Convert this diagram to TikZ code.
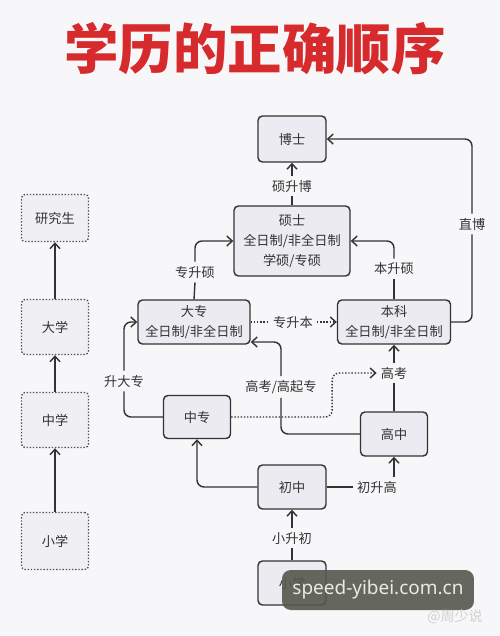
\documentclass[tikz,border=0pt]{standalone}
\usepackage{fontspec}
\setmainfont{Noto Sans CJK SC}
\newfontfamily\wmfont{Noto Sans}
\usetikzlibrary{arrows.meta,positioning}
\definecolor{bgc}{HTML}{F7F7F9}
\definecolor{boxfill}{HTML}{ECEBF1}
\definecolor{boxline}{HTML}{333333}
\definecolor{txt}{HTML}{333333}
\definecolor{titlered}{HTML}{D62A2C}
\definecolor{wmbox}{HTML}{56584E}
\definecolor{wmtext}{HTML}{E8ECDA}
\tikzset{
  stage/.style={draw=boxline, line width=0.8pt, rounded corners=2.5pt, fill=boxfill,
    align=center, text=txt, inner sep=0pt, font=\fontsize{7.5}{11.2}\selectfont},
  levelbox/.style={draw=boxline!85, line width=0.8pt, densely dotted, rounded corners=2pt,
    fill=boxfill!80, text=txt, minimum width=1.34cm, inner sep=0pt,
    font=\fontsize{7.5}{11.2}\selectfont},
  lbl/.style={text=txt, inner sep=2.2pt, font=\fontsize{7.5}{9}\selectfont},
  link/.style={draw=boxline, line width=0.8pt},
  arr/.style={link, -{Straight Barb[length=1.1mm, width=2mm]}},
  dotarr/.style={arr, densely dotted}
}
\begin{document}
\begin{tikzpicture}[x=0.02cm, y=-0.02cm]
  \fill[bgc] (0,0) rectangle (500,636);
  \useasboundingbox (0,0) rectangle (500,636);
  \node[text=titlered, font=\fontsize{31}{31}\bfseries] (title) at (255,49) {学历的正确顺序};

  % left column
  \node[levelbox, minimum height=0.94cm] (yjs) at (55,218) {研究生};
  \node[levelbox, minimum height=1.1cm] (dx) at (55,327) {大学};
  \node[levelbox, minimum height=1.1cm] (zx) at (55,420) {中学};
  \node[levelbox, minimum height=1.14cm] (xx) at (55,541) {小学};
  \draw[arr] (xx.north) -- (zx.south);
  \draw[arr] (zx.north) -- (dx.south);
  \draw[arr] (dx.north) -- (yjs.south);

  % stages
  \node[stage, minimum width=1.36cm, minimum height=0.92cm] (boshi) at (292,139) {博士};
  \node[stage, minimum width=2.32cm, minimum height=1.4cm] (shuoshi) at (292,241) {硕士\\全日制/非全日制\\学硕/专硕};
  \node[stage, minimum width=2.24cm, minimum height=0.88cm] (dazhuan) at (194,322) {大专\\全日制/非全日制};
  \node[stage, minimum width=2.26cm, minimum height=0.88cm] (benke) at (394,322) {本科\\全日制/非全日制};
  \node[stage, minimum width=1.34cm, minimum height=0.86cm] (zhongzhuan) at (197,417) {中专};
  \node[stage, minimum width=1.34cm, minimum height=0.88cm] (gaozhong) at (394,434) {高中};
  \node[stage, minimum width=1.36cm, minimum height=0.88cm] (chuzhong) at (292,487) {初中};
  \node[stage, minimum width=1.36cm, minimum height=0.88cm] (xiaoxue) at (292,583) {小学};

  % labels
  \node[lbl] (ssb) at (292,186) {硕升博};
  \node[lbl] (zb) at (472,224) {直博};
  \node[lbl] (bss) at (394,269) {本升硕};
  \node[lbl] (zss) at (195,272) {专升硕};
  \node[lbl] (zsb) at (293,322) {专升本};
  \node[lbl] (sdz) at (124,381) {升大专};
  \node[lbl] (gqz) at (281,387) {高考/高起专};
  \node[lbl] (gk) at (394,373) {高考};
  \node[lbl] (csg) at (377,487) {初升高};
  \node[lbl] (xsc) at (292,538) {小升初};

  % connectors
  \draw[link] (shuoshi.north) -- (ssb.south);
  \draw[arr] (ssb.north) -- (boshi.south);
  \draw[link, rounded corners=4pt] (benke.east) -| (zb.south);
  \draw[arr, rounded corners=4pt] (zb.north) |- (boshi.east);
  \draw[link] (benke.north) -- (bss.south);
  \draw[arr, rounded corners=4pt] (bss.north) |- (shuoshi.east);
  \draw[link] (dazhuan.north) -- (zss.south);
  \draw[arr, rounded corners=4pt] (zss.north) |- (shuoshi.west);
  \draw[link, densely dotted] (dazhuan.east) -- (zsb.west);
  \draw[dotarr] (zsb.east) -- (benke.west);
  \draw[link, rounded corners=4pt] (zhongzhuan.west) -| (sdz.south);
  \draw[arr, rounded corners=4pt] (sdz.north) |- (dazhuan.west);
  \draw[link, rounded corners=4pt] (gaozhong.west) -| (gqz.south);
  \draw[arr, rounded corners=4pt] (gqz.north) |- ([yshift=-0.4cm]dazhuan.east);
  \draw[dotarr, rounded corners=4pt] (zhongzhuan.east) -- ++(101,0) |- (gk.west);
  \draw[link] (gaozhong.north) -- (gk.south);
  \draw[arr] (gk.north) -- (benke.south);
  \draw[arr, rounded corners=4pt] (chuzhong.west) -| (zhongzhuan.south);
  \draw[link] (chuzhong.east) -- (csg.west);
  \draw[arr] (csg.north -| gaozhong.south) -- (gaozhong.south);
  \draw[link] (xiaoxue.north) -- (xsc.south);
  \draw[arr] (xsc.north) -- (chuzhong.south);

  % watermark
  \node[fill=wmbox, fill opacity=0.9, text opacity=1, text=wmtext, rounded corners=5pt,
    minimum width=3.84cm, minimum height=0.8cm, inner sep=0pt,
    font=\wmfont\fontsize{10.8}{12}\selectfont] (wm) at (378,590) {speed-yibei.com.cn};
  \node[text=black!18, font=\fontsize{8}{9}\selectfont] (src) at (455,617) {@周少说};
\end{tikzpicture}
\end{document}
